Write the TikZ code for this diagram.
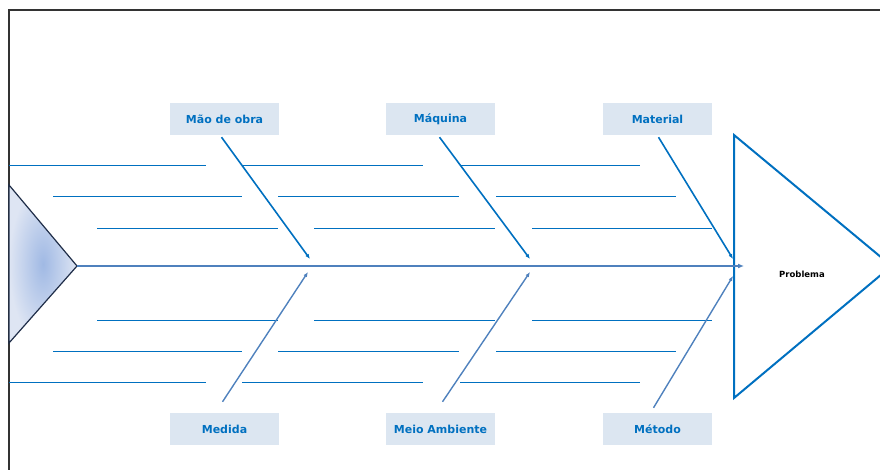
\documentclass[tikz,border=0pt]{standalone}
\usepackage{fontspec}
\setmainfont{DejaVu Sans}
\usetikzlibrary{arrows.meta,positioning,calc}
\definecolor{azul}{RGB}{0,112,192}
\definecolor{azulclaro}{RGB}{79,129,189}
\definecolor{caixa}{RGB}{220,230,241}
\definecolor{marinho}{RGB}{31,45,72}
\definecolor{sombra}{RGB}{160,185,228}
\definecolor{borda}{RGB}{222,229,243}
\tikzset{
  causa/.style={fill=caixa,text=azul,font=\bfseries\fontsize{11}{13}\selectfont,
                minimum width=109pt,minimum height=32pt,inner sep=0pt},
  osso/.style={-{Latex[length=5pt,width=4pt]},line width=1.6pt,draw=azul},
  ossob/.style={osso,draw=azulclaro,line width=1.4pt},
  espinha/.style={-{Latex[length=6pt,width=5pt]},line width=2pt,draw=azulclaro},
  risco/.style={draw=azul,line width=0.9pt}
}

\begin{document}
\begin{tikzpicture}[x=1pt,y=-1pt]
  \useasboundingbox (0,0) rectangle (880,470);
  % moldura
  \draw[black!80,line width=1.2pt] (880,10) -- (9,10) -- (9,470);
  % cabeca e cauda
  \draw[marinho,line width=1.2pt,inner color=sombra,outer color=borda]
    (9,185) -- (77,266) -- (9,343) -- cycle;
  \draw[azul,line width=2pt] (882,258) -- (734,135) -- (734,398) -- (882,274);
  \node[font=\bfseries\fontsize{8.5}{10}\selectfont] (prob) at (802,274) {Problema};
  \coordinate (tail) at (77,266);
  \coordinate (head) at (744,266);
  % causas
  \node[causa] (mao) at (224.5,119) {Mão de obra};
  \node[causa] (maq) at (440.5,119) {Máquina};
  \node[causa] (mat) at (657.5,119) {Material};
  \node[causa] (med) at (224.5,429) {Medida};
  \node[causa] (meio) at (440.5,429) {Meio Ambiente};
  \node[causa] (met) at (657.5,429) {Método};
  \coordinate (t1) at (310,259); \coordinate (t2) at (530,259); \coordinate (t3) at (733,259);
  \coordinate (b1) at (308,272); \coordinate (b2) at (530,272); \coordinate (b3) at (733,276);
  % sub-causas
  \foreach \y/\a/\s in {165/9/0,196/53/36,228/97/72,382/9/0,351/53/36,320/97/72}
    \draw[risco] (\a,\y) -- (206+\s,\y) (242+\s,\y) -- (423+\s,\y) (460+\s,\y) -- (640+\s,\y);
  \draw[espinha] (tail) -- (head);
  \draw[osso] ([xshift=-3pt,yshift=-2pt]mao.south) -- (t1);
  \draw[osso] ([xshift=-1pt,yshift=-2pt]maq.south) -- (t2);
  \draw[osso] ([xshift=1pt,yshift=-2pt]mat.south) -- (t3);
  \draw[ossob] ([xshift=-2pt,yshift=11pt]med.north) -- (b1);
  \draw[ossob] ([xshift=2pt,yshift=11pt]meio.north) -- (b2);
  \draw[ossob] ([xshift=-4pt,yshift=5pt]met.north) -- (b3);
\end{tikzpicture}
\end{document}
